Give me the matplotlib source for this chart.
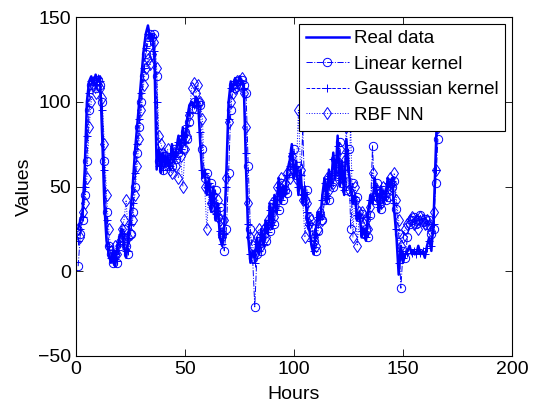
import numpy as np
import matplotlib
matplotlib.use("Agg")
import matplotlib.pyplot as plt

plt.rcParams["font.family"] = ["Liberation Sans", "DejaVu Sans"]

# hourly values (h = 1..166)
real_data = [
    25, 30, 35, 60, 100, 112, 115, 110, 116, 112,
    115, 80, 40, 18, 10, 5, 12, 3, 15, 20,
    25, 15, 8, 20, 35, 50, 70, 85, 100, 115,
    130, 140, 145, 138, 140, 125, 60, 72, 58, 70,
    62, 68, 60, 75, 65, 72, 80, 70, 85, 75,
    90, 98, 100, 97, 103, 100, 75, 55, 60, 45,
    55, 35, 50, 30, 40, 20, 15, 25, 60, 100,
    112, 108, 114, 110, 115, 112, 108, 60, 20, 5,
    12, 8, 20, 10, 25, 15, 30, 22, 40, 25,
    45, 35, 55, 40, 50, 45, 60, 65, 75, 55,
    65, 45, 60, 40, 50, 30, 25, 15, 10, 25,
    35, 30, 45, 55, 40, 60, 50, 70, 55, 80,
    50, 65, 45, 78, 60, 50, 40, 45, 30, 35,
    20, 25, 18, 35, 45, 40, 55, 45, 35, 50,
    40, 45, 55, 50, 55, 35, 20, -2, 15, 5,
    10, 12, 15, 10, 12, 10, 15, 10, 12, 8,
    15, 20, 12, 30, 70, 110,
]
linear_kernel = [
    3, 22, 30, 45, 65, 95, 110, 112, 108, 113,
    110, 100, 65, 35, 15, 10, 5, 10, 5, 15,
    20, 25, 15, 10, 22, 35, 50, 70, 85, 100,
    115, 128, 135, 140, 138, 140, 115, 65, 70, 60,
    68, 62, 66, 62, 72, 66, 70, 78, 72, 82,
    78, 88, 96, 100, 96, 100, 98, 72, 55, 58,
    48, 52, 38, 48, 32, 38, 22, 12, 25, 58,
    95, 110, 108, 112, 110, 113, 110, 105, 62, 25,
    8, -21, 10, 18, 12, 22, 18, 28, 24, 38,
    28, 42, 36, 52, 42, 48, 46, 58, 64, 72,
    57, 62, 48, 85, 42, 48, 32, 26, 18, 12,
    24, 33, 30, 42, 52, 42, 57, 50, 66, 56,
    76, 52, 62, 48, 72, 25, 52, 42, 44, 32,
    34, 22, 25, 20, 33, 74, 42, 52, 46, 37,
    48, 42, 44, 52, 50, 53, 37, 22, -10, 12,
    8, 20, 28, 30, 32, 28, 30, 33, 29, 31,
    27, 30, 22, 25, 52, 78,
]
gaussian_kernel = [
    18, 25, 32, 50, 80, 105, 112, 113, 110, 114,
    112, 95, 60, 30, 15, 8, 6, 10, 6, 16,
    22, 22, 12, 12, 28, 40, 58, 75, 90, 105,
    120, 132, 140, 136, 138, 130, 100, 62, 68, 60,
    66, 64, 62, 70, 66, 70, 76, 72, 80, 76,
    86, 94, 98, 98, 100, 98, 82, 60, 58, 50,
    52, 40, 46, 34, 38, 24, 16, 22, 50, 90,
    108, 108, 112, 110, 113, 111, 108, 70, 28, 10,
    10, 5, 16, 12, 22, 16, 27, 23, 36, 27,
    42, 36, 50, 42, 48, 46, 57, 62, 70, 58,
    62, 50, 57, 45, 47, 35, 27, 18, 12, 22,
    32, 31, 42, 52, 43, 56, 51, 66, 57, 74,
    55, 62, 48, 70, 60, 45, 42, 44, 33, 34,
    24, 24, 20, 32, 42, 42, 50, 46, 38, 46,
    42, 44, 52, 50, 53, 40, 25, 5, 12, 8,
    10, 11, 13, 11, 12, 10, 13, 11, 12, 10,
    14, 18, 15, 28, 60, 95,
]
rbf_nn = [
    25, 20, 35, 40, 55, 85, 100, 110, 105, 110,
    108, 102, 75, 45, 25, 12, 8, 15, 10, 18,
    25, 30, 42, 20, 22, 30, 45, 62, 78, 95,
    110, 120, 125, 122, 128, 135, 120, 80, 75, 70,
    65, 72, 60, 58, 70, 62, 55, 68, 50, 72,
    80, 92, 108, 111, 105, 110, 100, 90, 50, 25,
    48, 40, 45, 35, 42, 30, 20, 30, 55, 88,
    100, 105, 108, 112, 110, 114, 105, 85, 40, 20,
    15, 10, 20, 25, 15, 25, 20, 30, 28, 40,
    32, 50, 45, 55, 48, 52, 58, 55, 68, 60,
    55, 95, 60, 42, 20, 40, 28, 30, 20, 15,
    25, 35, 30, 45, 55, 48, 55, 52, 60, 62,
    72, 55, 65, 85, 48, 88, 20, 50, 15, 35,
    35, 28, 30, 25, 38, 58, 45, 48, 42, 40,
    50, 45, 48, 55, 52, 58, 42, 30, 15, 20,
    25, 28, 30, 32, 28, 30, 25, 32, 30, 28,
    30, 27, 24, 35, 60, 85,
]
hours = np.arange(1, len(real_data) + 1)

BLUE = "#0000ff"

fig = plt.figure(figsize=(5.39, 4.05), dpi=100)
ax = fig.add_axes([0.141, 0.121, 0.809, 0.837])

ax.plot(hours, real_data, "-", color=BLUE, lw=1.8, label="Real data")
ax.plot(hours, linear_kernel, "-.", color=BLUE, lw=0.7, marker="o",
        ms=6, mfc="none", mew=0.7, label="Linear kernel")
ax.plot(hours, gaussian_kernel, "--", color=BLUE, lw=0.7, marker="+",
        ms=6, mew=0.7, label="Gausssian kernel")
ax.plot(hours, rbf_nn, ":", color=BLUE, lw=0.7, marker="d",
        ms=6, mfc="none", mew=0.7, label="RBF NN")

ax.set_xlim(0, 200)
ax.set_ylim(-50, 150)
ax.set_xticks(range(0, 201, 50))
ax.set_yticks(range(-50, 151, 50))
ax.tick_params(direction="in", top=True, right=True, labelsize=14,
               length=5, width=0.6)
for s in ax.spines.values():
    s.set_linewidth(0.8)
ax.set_xlabel("Hours", fontsize=14, labelpad=6)
ax.set_ylabel("Values", fontsize=14, labelpad=4)

leg = ax.legend(loc="upper right", fontsize=13.5, fancybox=False,
                framealpha=1, edgecolor="black", handlelength=2.3,
                borderaxespad=0.35, borderpad=0.35, labelspacing=0.45,
                handletextpad=0.3)
leg.get_frame().set_linewidth(0.8)

fig.savefig("out.png", dpi=100)
